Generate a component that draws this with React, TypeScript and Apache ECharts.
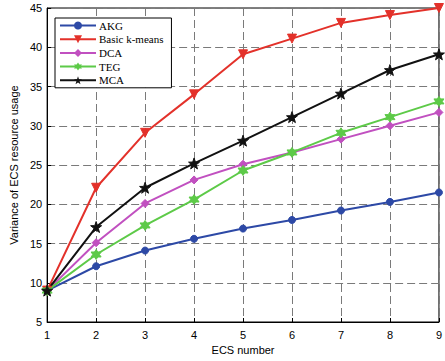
import React, { useEffect, useRef } from "react";
import * as echarts from "echarts";

const ecsNumbers = [1, 2, 3, 4, 5, 6, 7, 8, 9];
const akg = [9, 12.1, 14.1, 15.6, 16.9, 18.0, 19.2, 20.3, 21.5];
const kmeans = [9, 22.1, 29.1, 34.0, 39.1, 41.1, 43.1, 44.1, 45];
const dca = [9, 15.1, 20.1, 23.1, 25.1, 26.6, 28.3, 30.0, 31.7];
const teg = [9, 13.6, 17.3, 20.6, 24.3, 26.6, 29.1, 31.1, 33.1];
const mca = [9, 17.1, 22.1, 25.2, 28.1, 31.1, 34.1, 37.1, 39.1];
const yTicks = { min: 5, max: 45, interval: 5 };

const pentagram =
  "path://M0,-10 L2.35,-3.24 9.51,-3.09 3.80,1.24 5.88,8.09 0,4 -5.88,8.09 -3.80,1.24 -9.51,-3.09 -2.35,-3.24Z";
const hexagram =
  "path://M0,-10 L2.89,-5 8.66,-5 5.77,0 8.66,5 2.89,5 0,10 -2.89,5 -8.66,5 -5.77,0 -8.66,-5 -2.89,-5Z";

export default function App() {
  const ref = useRef<HTMLDivElement>(null);
  useEffect(() => {
    if (!ref.current) return;
    const chart = echarts.init(ref.current, null, { renderer: "svg" });
    const mk = (name: string, data: number[], color: string, symbol: string, size: number, rotate = 0) => ({
      name,
      type: "line",
      data: ecsNumbers.map((x, i) => [x, data[i]]),
      symbol,
      symbolSize: size,
      symbolRotate: rotate,
      showSymbol: true,
      lineStyle: { color, width: 2 },
      itemStyle: { color, borderColor: color },
    });
    const sans = "'Liberation Sans', Arial, sans-serif";
    const gridLine = { show: true, lineStyle: { color: "#7a7a7a", type: [8, 4], width: 1 } };
    chart.setOption({
      animation: false,
      backgroundColor: "#fff",
      grid: {
        left: 43,
        right: 6,
        top: 8,
        bottom: 39,
        show: true,
        borderColor: "#000",
        borderWidth: 1,
      },
      legend: {
        orient: "vertical",
        left: 55,
        top: 18,
        backgroundColor: "#fff",
        borderColor: "#000",
        borderWidth: 1,
        borderRadius: 0,
        padding: [2, 8, 2, 4],
        itemGap: 2.7,
        itemWidth: 36,
        itemHeight: 10,
        textStyle: { fontFamily: "'Liberation Serif', 'Times New Roman', serif", fontSize: 11, color: "#000", padding: [0, 0, 0, -2] },
        data: ["AKG", "Basic k-means", "DCA", "TEG", "MCA"],
      },
      xAxis: {
        type: "value",
        min: 1,
        max: 9,
        interval: 1,
        name: "ECS number",
        nameLocation: "middle",
        nameGap: 22,
        nameTextStyle: { fontFamily: sans, fontSize: 11, color: "#000" },
        axisLine: { lineStyle: { color: "#000" } },
        axisTick: { inside: true, length: 4, lineStyle: { color: "#000" } },
        axisLabel: { fontFamily: sans, fontSize: 11, color: "#000", margin: 7 },
        splitLine: gridLine,
      },
      yAxis: {
        type: "value",
        min: yTicks.min,
        max: yTicks.max,
        interval: yTicks.interval,
        name: "Variance of ECS resource usage",
        nameLocation: "middle",
        nameGap: 27,
        nameTextStyle: { fontFamily: sans, fontSize: 11, color: "#000" },
        axisLine: { lineStyle: { color: "#000" } },
        axisTick: { inside: true, length: 4, lineStyle: { color: "#000" } },
        axisLabel: { fontFamily: sans, fontSize: 11, color: "#000", margin: 5 },
        splitLine: gridLine,
      },
      series: [
        mk("AKG", akg, "#2d49a6", "circle", 7),
        mk("Basic k-means", kmeans, "#e3312a", "triangle", 9, 180),
        mk("DCA", dca, "#c150c0", "diamond", 8),
        mk("TEG", teg, "#5dca48", hexagram, 10),
        mk("MCA", mca, "#111111", pentagram, 11),
      ],
    });
    return () => chart.dispose();
  }, []);
  return (
    <div
      ref={ref}
      style={{ position: "fixed", left: 0, top: 0, width: 445, height: 361 }}
    />
  );
}
